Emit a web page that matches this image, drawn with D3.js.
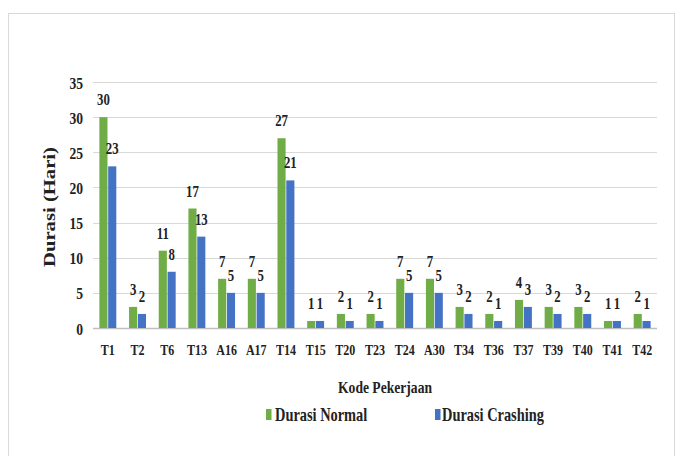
<!DOCTYPE html>
<html>
<head>
<meta charset="utf-8">
<script src="https://cdn.jsdelivr.net/npm/d3@7"></script>
<style>
  html, body { margin: 0; padding: 0; background: #fff; }
  svg text { font-family: "Times New Roman", "Liberation Serif", Tinos, "DejaVu Serif", serif; font-weight: bold; fill: #222; }
</style>
</head>
<body>
<svg id="chart" width="676" height="456"></svg>
<script>
// Task codes and durations (days)
const categories = ["T1","T2","T6","T13","A16","A17","T14","T15","T20","T23","T24","A30","T34","T36","T37","T39","T40","T41","T42"];
const normalValues = [30,3,11,17,7,7,27,1,2,2,7,7,3,2,4,3,3,1,2];
const crashingValues = [23,2,8,13,5,5,21,1,1,1,5,5,2,1,3,2,2,1,1];
const seriesNames = ["Durasi Normal", "Durasi Crashing"];
const seriesColors = ["#70ad47", "#4472c4"];
const yTicks = [0,5,10,15,20,25,30,35];

const svg = d3.select("#chart");
const W = 676, H = 456;
const margin = { left: 93, right: 19, top: 82, bottom: 128 };
const plotW = W - margin.left - margin.right;
const plotH = H - margin.top - margin.bottom;
const SX = 0.8; // condensed type

// outer frame
svg.append("rect").attr("x", 8.5).attr("y", 13.5).attr("width", 666).attr("height", 460)
  .attr("fill", "#fff").attr("stroke", "#d9d9d9").attr("stroke-width", 1);

const g = svg.append("g").attr("transform", `translate(${margin.left},${margin.top})`);

const y = d3.scaleLinear().domain([0, 35]).range([plotH, 0]);
const x0 = d3.scaleBand().domain(categories).range([0, plotW]).paddingInner(0.43).paddingOuter(0.215);
const x1 = d3.scaleBand().domain(seriesNames).range([0, x0.bandwidth()]).paddingInner(0.08);

// gridlines
g.append("g").selectAll("line").data(yTicks).join("line")
  .attr("x1", 0).attr("x2", plotW)
  .attr("y1", d => Math.round(y(d)) + 0.5).attr("y2", d => Math.round(y(d)) + 0.5)
  .attr("stroke", d => d === 0 ? "#bfbfbf" : "#d9d9d9").attr("stroke-width", d => d === 0 ? 1.5 : 1.2);

// condensed text helper
function ctext(sel, x, yy, txt, size, anchor) {
  return sel.append("text")
    .attr("transform", `translate(${x},${yy}) scale(${SX},1)`)
    .attr("text-anchor", anchor || "middle")
    .attr("font-size", size)
    .text(txt);
}

// y tick labels
const yAxis = d3.axisLeft(y).tickValues(yTicks).tickSize(0).tickPadding(10);
const ya = g.append("g").call(yAxis);
ya.select(".domain").remove();
ya.selectAll("text")
  .attr("font-size", 17)
  .attr("dy", "0.36em")
  .each(function() {
    const t = d3.select(this);
    const xx = +t.attr("x");
    t.attr("x", xx / SX).attr("transform", `scale(${SX},1)`);
  });

// x tick labels
const xAxis = d3.axisBottom(x0).tickSize(0).tickPadding(16);
const xa = g.append("g").attr("transform", `translate(0,${plotH})`).call(xAxis);
xa.select(".domain").remove();
xa.selectAll(".tick text")
  .attr("font-size", 15)
  .attr("transform", `scale(${SX},1)`)
  .each(function() {
    const t = d3.select(this);
    const p = d3.select(this.parentNode);
    // keep tick centered after horizontal scaling
    const m = /translate\(([-\d.]+)/.exec(p.attr("transform"));
    const cx = m ? +m[1] : 0;
    p.attr("transform", `translate(${cx},0)`);
  });

// bars
const rows = categories.map((c, i) => ({ cat: c, vals: [normalValues[i], crashingValues[i]] }));
const groups = g.append("g").selectAll("g").data(rows).join("g")
  .attr("transform", d => `translate(${x0(d.cat)},0)`);

groups.selectAll("rect").data(d => d.vals.map((v, k) => ({ v, k }))).join("rect")
  .attr("x", d => x1(seriesNames[d.k]))
  .attr("width", x1.bandwidth())
  .attr("y", d => y(d.v))
  .attr("height", d => y(0) - y(d.v))
  .attr("fill", d => seriesColors[d.k]);

// value labels
groups.each(function(d) {
  const gg = d3.select(this);
  d.vals.forEach((v, k) => {
    ctext(gg, x1(seriesNames[k]) + x1.bandwidth() / 2, y(v) - 12, String(v), 16, "middle");
  });
});

// axis titles
ctext(svg, 385, 393, "Kode Pekerjaan", 17, "middle");

svg.append("text")
  .attr("transform", `translate(55,207) rotate(-90)`)
  .attr("text-anchor", "middle")
  .attr("font-size", 16)
  .attr("textLength", 120)
  .attr("lengthAdjust", "spacingAndGlyphs")
  .text("Durasi (Hari)");

// legend
const legend = [{ x: 266, tx: 275 }, { x: 435, tx: 442 }];
legend.forEach((L, k) => {
  svg.append("rect").attr("x", L.x).attr("y", 409).attr("width", 5.5).attr("height", 11)
    .attr("fill", seriesColors[k]);
  ctext(svg, L.tx, 421, seriesNames[k], 18, "start");
});
</script>
</body>
</html>
